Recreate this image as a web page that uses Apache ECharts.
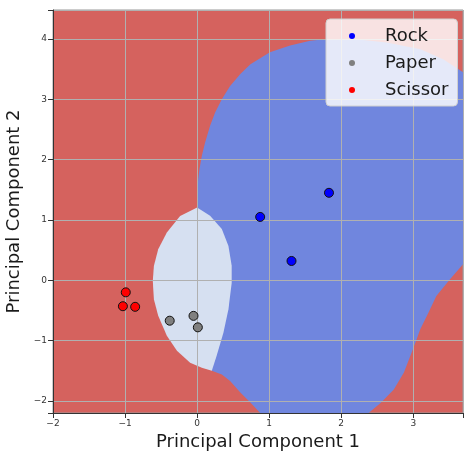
<!DOCTYPE html>
<html>
<head>
<meta charset="utf-8">
<script src="https://cdn.jsdelivr.net/npm/echarts@6/dist/echarts.min.js"></script>
<style>
html,body{margin:0;padding:0;background:#fff;}
#chart{width:464px;height:452px;}
</style>
</head>
<body>
<div id="chart"></div>
<script>
// Class labels
var classNames = ['Rock', 'Paper', 'Scissor'];
// Scatter points [PC1, PC2]
var rockPoints = [[0.875, 1.05], [1.83, 1.45], [1.31, 0.32]];
var paperPoints = [[-0.38, -0.67], [-0.05, -0.59], [0.01, -0.78]];
var scissorPoints = [[-0.99, -0.20], [-1.03, -0.43], [-0.86, -0.44]];
// Decision region boundaries (data coords)
var rockRegion = [
  [0, 1.18], [0.004, 1.56], [0.032, 1.84], [0.065, 2.06], [0.11, 2.28],
  [0.18, 2.56], [0.25, 2.78], [0.343, 3.0], [0.458, 3.22], [0.6, 3.42],
  [0.74, 3.58], [1.01, 3.78], [1.29, 3.89], [1.57, 3.97], [1.8, 4.0],
  [2.17, 4.0], [2.63, 3.94], [3.1, 3.83], [3.42, 3.66], [3.69, 3.45],
  [3.69, 0.265], [3.51, 0.017], [3.32, -0.26], [3.21, -0.54], [3.097, -0.81],
  [3.03, -1.03], [2.96, -1.25], [2.87, -1.53], [2.73, -1.81], [2.55, -2.03],
  [2.38, -2.2], [0.875, -2.2], [0.736, -2.02], [0.6, -1.86], [0.458, -1.67],
  [0.343, -1.56], [0.204, -1.50]
];
var paperRegion = [
  [0, 1.205], [0.18, 1.07], [0.343, 0.85], [0.435, 0.57], [0.48, 0.24],
  [0.48, -0.04], [0.435, -0.48], [0.365, -0.87], [0.27, -1.255], [0.204, -1.50],
  [0.065, -1.45], [-0.097, -1.365], [-0.28, -1.17], [-0.42, -0.92],
  [-0.54, -0.59], [-0.6, -0.315], [-0.615, -0.01], [-0.6, 0.237],
  [-0.54, 0.514], [-0.42, 0.79], [-0.236, 1.066]
];
// Axis ranges
var xRange = [-2, 3.69];
var yRange = [-2.2, 4.48];

var regionColors = ['#7086de', '#d6e0f1'];
var regions = [rockRegion, paperRegion];

var chart = echarts.init(document.getElementById('chart'));
function fmt(v) {
  if (Math.abs(v - Math.round(v)) > 1e-6) return '';
  var r = Math.round(v);
  return r < 0 ? '\u2212' + Math.abs(r) : String(r);
}
var axisCommon = {
  type: 'value',
  z: 3,
  nameLocation: 'middle',
  nameTextStyle: {fontFamily: 'DejaVu Sans', fontSize: 18, color: '#1a1a1a'},
  axisLine: {show: true, onZero: false, lineStyle: {color: '#333', width: 1}},
  axisTick: {show: true, length: 5, lineStyle: {color: '#333'}},
  axisLabel: {fontFamily: 'DejaVu Sans', fontSize: 9, color: '#333', margin: 6, formatter: fmt},
  splitLine: {show: true, lineStyle: {color: '#b0b0b0', width: 1}}
};
var option = {
  animation: false,
  backgroundColor: '#ffffff',
  grid: {left: 53, right: 1, top: 10, bottom: 39, containLabel: false, outerBoundsMode: 'none',
         show: true, backgroundColor: '#d5625e', borderColor: '#999', borderWidth: 1},
  xAxis: Object.assign({}, axisCommon, {min: xRange[0], max: xRange[1], interval: 1, name: 'Principal Component 1', nameGap: 18}),
  yAxis: Object.assign({}, axisCommon, {min: yRange[0], max: yRange[1], splitNumber: 6, name: 'Principal Component 2', nameGap: 22}),
  legend: {
    orient: 'vertical', left: 326, top: 19,
    padding: [7, 9, 6, 23], itemGap: 7,
    backgroundColor: 'rgba(255,255,255,0.82)', borderColor: '#d0d0d0', borderWidth: 1, borderRadius: 4,
    icon: 'circle', itemWidth: 6, itemHeight: 6,
    itemStyle: {borderWidth: 0},
    textStyle: {fontFamily: 'DejaVu Sans', fontSize: 18, color: '#1a1a1a', lineHeight: 20, padding: [0, 0, 0, 25]},
    data: classNames
  },
  series: [
    {
      type: 'custom', z: 1, silent: true,
      data: regions.map(function (r, i) { return [i]; }),
      renderItem: function (params, api) {
        var poly = regions[params.dataIndex];
        var pts = poly.map(function (p) { return api.coord(p); });
        return {type: 'polygon', shape: {points: pts}, style: {fill: regionColors[params.dataIndex], stroke: null}};
      }
    },
    {name: classNames[0], type: 'scatter', z: 5, symbolSize: 9, data: rockPoints, itemStyle: {color: '#0000ff', borderColor: '#111', borderWidth: 1, opacity: 1}},
    {name: classNames[1], type: 'scatter', z: 5, symbolSize: 9, data: paperPoints, itemStyle: {color: '#808080', borderColor: '#111', borderWidth: 1, opacity: 1}},
    {name: classNames[2], type: 'scatter', z: 5, symbolSize: 9, data: scissorPoints, itemStyle: {color: '#ff0000', borderColor: '#111', borderWidth: 1, opacity: 1}}
  ]
};
chart.setOption(option);
</script>
</body>
</html>
